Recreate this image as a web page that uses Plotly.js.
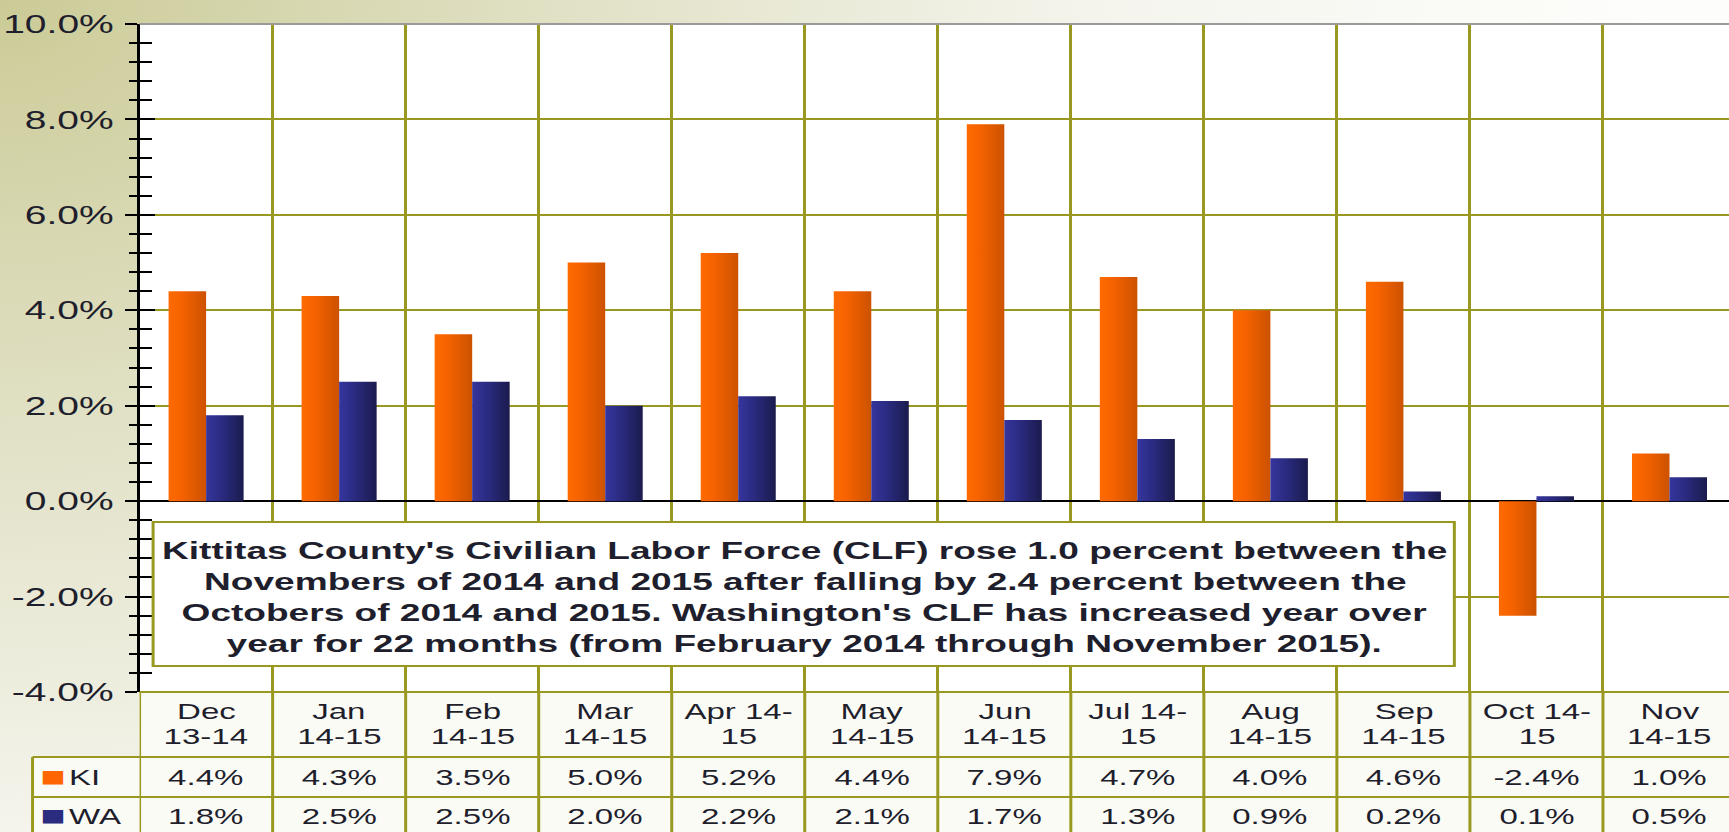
<!DOCTYPE html>
<html>
<head>
<meta charset="utf-8">
<script src="https://cdn.plot.ly/plotly-3.0.1.min.js"></script>
<style>
html, body {
  margin: 0; padding: 0; width: 1729px; height: 832px; overflow: hidden;
  background: radial-gradient(ellipse 95% 150% at 0% 0%, #cbcb97 0%, #e2e2c8 36%, #f5f5ee 68%, #fdfdfb 100%);
}
#chart { width: 1152px; height: 832px; transform: scaleX(1.5008681); transform-origin: 0 0; }
.barlayer g.trace.bars:nth-of-type(1) .point path { fill: url(#gOrange) !important; }
.barlayer g.trace.bars:nth-of-type(2) .point path { fill: url(#gNavy) !important; }
</style>
</head>
<body>
<svg width="0" height="0" style="position:absolute">
  <defs>
    <linearGradient id="gOrange" x1="0" y1="0" x2="1" y2="0">
      <stop offset="0" stop-color="#ff6a00"/>
      <stop offset="0.35" stop-color="#f56200"/>
      <stop offset="1" stop-color="#cc5200"/>
    </linearGradient>
    <linearGradient id="gNavy" x1="0" y1="0" x2="1" y2="0">
      <stop offset="0" stop-color="#35359e"/>
      <stop offset="0.4" stop-color="#2b2b82"/>
      <stop offset="1" stop-color="#1b1b4e"/>
    </linearGradient>
  </defs>
</svg>
<div id="chart"></div>
<script>
const categories = ['Dec 13-14', 'Jan 14-15', 'Feb 14-15', 'Mar 14-15', 'Apr 14-15', 'May 14-15',
                    'Jun 14-15', 'Jul 14-15', 'Aug 14-15', 'Sep 14-15', 'Oct 14-15', 'Nov 14-15'];
const headerLabels = ['Dec<br>13-14', 'Jan<br>14-15', 'Feb<br>14-15', 'Mar<br>14-15', 'Apr 14-<br>15', 'May<br>14-15',
                      'Jun<br>14-15', 'Jul 14-<br>15', 'Aug<br>14-15', 'Sep<br>14-15', 'Oct 14-<br>15', 'Nov<br>14-15'];
const kiValues = [4.4, 4.3, 3.5, 5.0, 5.2, 4.4, 7.9, 4.7, 4.0, 4.6, -2.4, 1.0];
const waValues = [1.8, 2.5, 2.5, 2.0, 2.2, 2.1, 1.7, 1.3, 0.9, 0.2, 0.1, 0.5];
const seriesNames = ['KI', 'WA'];
const seriesColors = ['#ff6600', '#2b2b80'];
const yTickValues = [-4, -2, 0, 2, 4, 6, 8, 10];
const noteLines = [
  "Kittitas County's Civilian Labor Force (CLF) rose 1.0 percent between the",
  "Novembers of 2014 and 2015 after falling by 2.4 percent between the",
  "Octobers of 2014 and 2015. Washington's CLF has increased year over",
  "year for 22 months (from February 2014 through November 2015)."
];

// layout geometry (full-picture pixels, converted to paper fractions)
const S = 1729 / 1152;
const PLOT_L = 140, PLOT_R = 1729, PLOT_T = 24, PLOT_B = 692;
const plotW = PLOT_R - PLOT_L, plotH = PLOT_B - PLOT_T;
const px = X => (X - PLOT_L) / plotW;
const py = Y => (PLOT_B - Y) / plotH;
const catW = 133;
const xMax = -0.5 + plotW / catW;

const OLIVE = '#999922';
const FONT = 'Liberation Sans, Arial, sans-serif';
const TXT = '#1e1e2c';
const fmt = v => v.toFixed(1) + '%';
const seriesValues = [kiValues, waValues];
const rowY = [777, 816];
const headerY = [711, 736];
const noteY = [550, 581, 612, 643];

const data = [
  { type: 'bar', x: categories, y: kiValues, name: seriesNames[0],
    marker: { color: seriesColors[0], line: { width: 0 } }, hoverinfo: 'skip' },
  { type: 'bar', x: categories, y: waValues, name: seriesNames[1],
    marker: { color: seriesColors[1], line: { width: 0 } }, hoverinfo: 'skip' },
  { type: 'scatter', x: [], y: [], yaxis: 'y2', showlegend: false, hoverinfo: 'skip' }
];

const shapes = [];
// table background
shapes.push({ type: 'rect', xref: 'paper', yref: 'paper', x0: 0, x1: 1, y0: py(850), y1: py(692),
  fillcolor: '#fbfbf6', line: { width: 0 }, layer: 'below' });
shapes.push({ type: 'rect', xref: 'paper', yref: 'paper', x0: px(33), x1: 0, y0: py(850), y1: py(757),
  fillcolor: '#fbfbf6', line: { width: 0 }, layer: 'below' });
// table vertical lines at category boundaries
for (let k = 0; k <= categories.length; k++) {
  shapes.push({ type: 'line', xref: 'x', yref: 'paper', x0: k - 0.5, x1: k - 0.5, y0: py(850), y1: 0,
    line: { color: OLIVE, width: 2 } });
}
shapes.push({ type: 'line', xref: 'paper', yref: 'paper', x0: px(33), x1: px(33), y0: py(850), y1: py(757),
  line: { color: OLIVE, width: 2 } });
// table horizontal lines
shapes.push({ type: 'line', xref: 'paper', yref: 'paper', x0: 0, x1: 1, y0: 0, y1: 0, line: { color: OLIVE, width: 2 } });
[757, 797].forEach(Y => shapes.push({ type: 'line', xref: 'paper', yref: 'paper', x0: px(33), x1: 1,
  y0: py(Y), y1: py(Y), line: { color: OLIVE, width: 2 } }));
// top border of plot
shapes.push({ type: 'line', xref: 'paper', yref: 'paper', x0: 0, x1: 1, y0: 1, y1: 1, line: { color: '#9a9a9a', width: 2 } });

const annotations = [];
const cellFont = { family: FONT, size: 22, color: TXT };
categories.forEach((c, i) => {
  const parts = headerLabels[i].split('<br>');
  parts.forEach((p, j) => {
    annotations.push({ xref: 'x', yref: 'paper', x: c, y: py(headerY[j]), text: p, showarrow: false,
      xanchor: 'center', yanchor: 'middle', font: cellFont });
  });
  seriesValues.forEach((vals, s) => {
    annotations.push({ xref: 'x', yref: 'paper', x: c, y: py(rowY[s]), text: fmt(vals[i]), showarrow: false,
      xanchor: 'center', yanchor: 'middle', font: cellFont });
  });
});
// legend column (key square + series name)
seriesNames.forEach((n, s) => {
  annotations.push({ xref: 'paper', yref: 'paper', x: px(54), y: py(rowY[s] - 1), text: '\u25A0', showarrow: false,
    xanchor: 'center', yanchor: 'middle', font: { family: FONT, size: 28, color: seriesColors[s] } });
  annotations.push({ xref: 'paper', yref: 'paper', x: px(66), y: py(rowY[s]), text: n, showarrow: false,
    xanchor: 'left', yanchor: 'middle', font: cellFont });
});
// note box and its lines
annotations.push({ xref: 'paper', yref: 'paper', x: px(804), y: py(594), xanchor: 'center', yanchor: 'middle',
  text: ' ', showarrow: false,
  width: (1456 - 152) / S - 4, height: 142,
  bgcolor: '#ffffff', bordercolor: OLIVE, borderwidth: 2, borderpad: 0,
  font: { family: FONT, size: 24, color: TXT } });
noteLines.forEach((t, j) => {
  annotations.push({ xref: 'paper', yref: 'paper', x: px(805), y: py(noteY[j]), xanchor: 'center', yanchor: 'middle',
    text: '<b>' + t + '</b>', showarrow: false, font: { family: FONT, size: 24.7, color: TXT } });
});

const layout = {
  width: 1152, height: 832,
  margin: { l: PLOT_L / S, r: 0, t: PLOT_T, b: 832 - PLOT_B, pad: 0 },
  paper_bgcolor: 'rgba(0,0,0,0)', plot_bgcolor: '#ffffff',
  font: { family: FONT, size: 22, color: TXT },
  barmode: 'group', bargap: 0.436, bargroupgap: 0,
  showlegend: false,
  xaxis: { type: 'category', range: [-0.5, xMax], tickson: 'boundaries', showgrid: true,
    gridcolor: OLIVE, gridwidth: 2, showticklabels: false, ticks: '', zeroline: false, showline: false, fixedrange: true },
  yaxis: { range: [-4, 10], tickmode: 'array', tickvals: yTickValues, ticktext: yTickValues.map(fmt),
    ticks: 'outside', ticklen: 8, tickwidth: 2, tickcolor: '#000', ticklabelstandoff: 2,
    minor: { tickmode: 'linear', tick0: 0, dtick: 0.4, ticks: 'outside', ticklen: 5, tickwidth: 2, tickcolor: '#000', showgrid: false },
    showgrid: true, gridcolor: OLIVE, gridwidth: 2,
    zeroline: true, zerolinecolor: '#000', zerolinewidth: 2,
    showline: true, linecolor: '#000', linewidth: 2,
    tickfont: { family: FONT, size: 26, color: TXT }, fixedrange: true },
  yaxis2: { overlaying: 'y', side: 'left', range: [-4, 10], tickmode: 'array', tickvals: yTickValues,
    showticklabels: false, ticks: 'inside', ticklen: 10, tickwidth: 2, tickcolor: '#000',
    minor: { tickmode: 'linear', tick0: 0, dtick: 0.4, ticks: 'inside', ticklen: 8, tickwidth: 2, tickcolor: '#000', showgrid: false },
    showgrid: false, zeroline: false, showline: false, fixedrange: true },
  shapes: shapes,
  annotations: annotations
};

Plotly.newPlot('chart', data, layout, { staticPlot: true, displayModeBar: false, responsive: false });
</script>
</body>
</html>
